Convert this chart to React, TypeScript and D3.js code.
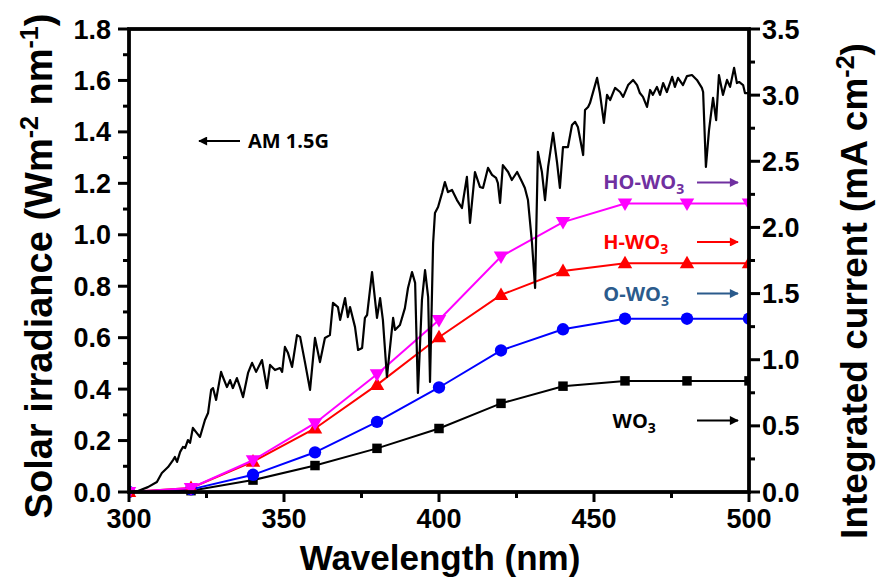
import React from 'react';
import * as d3 from 'd3';

const wavelengths = [300, 320, 340, 360, 380, 400, 420, 440, 460, 480, 500];
const currentWO3 = [0, 0.01, 0.09, 0.2, 0.33, 0.48, 0.67, 0.8, 0.84, 0.84, 0.84];
const currentOWO3 = [0, 0.02, 0.13, 0.3, 0.53, 0.79, 1.07, 1.23, 1.31, 1.31, 1.31];
const currentHWO3 = [0, 0.03, 0.23, 0.48, 0.81, 1.17, 1.49, 1.67, 1.73, 1.73, 1.73];
const currentHOWO3 = [0, 0.03, 0.24, 0.52, 0.89, 1.3, 1.78, 2.04, 2.18, 2.18, 2.18];

const amWavelength = [300.0,302.9,306.1,309.0,310.6,312.6,314.2,314.8,315.5,316.5,317.4,318.1,319.0,319.7,320.6,321.9,322.9,324.5,325.5,326.5,327.1,328.1,329.7,330.3,331.6,332.6,333.5,334.8,335.8,336.8,338.4,339.7,341.0,342.9,344.5,345.5,347.1,348.7,349.4,350.3,351.3,352.6,354.2,355.2,356.8,358.4,360.0,361.6,363.2,364.8,365.8,367.4,368.1,369.7,370.6,371.3,372.9,373.9,375.2,376.1,376.8,378.4,380.0,381.0,381.9,383.2,385.2,385.8,387.4,389.0,390.0,391.3,392.3,393.2,394.5,395.5,396.5,397.1,398.1,398.7,399.7,401.0,401.9,402.9,404.2,405.8,407.4,409.0,410.0,411.6,413.2,414.2,415.8,417.1,418.4,419.0,419.7,420.6,422.3,423.5,425.2,426.8,427.7,428.7,430.0,431.0,431.9,433.2,434.2,435.2,436.8,438.1,439.0,440.0,441.6,442.9,443.9,444.8,446.5,447.1,448.1,448.7,451.0,451.9,453.2,454.2,455.2,456.8,458.4,459.4,461.0,462.6,463.9,464.8,465.8,467.1,468.1,469.0,470.3,471.3,472.3,473.5,475.2,476.1,477.1,478.7,480.0,481.6,483.2,484.8,485.2,486.1,487.1,488.4,489.4,490.3,491.6,492.9,493.9,495.2,496.1,496.8,498.1,498.7,500.0];
const amIrradiance = [0.000,0.004,0.019,0.039,0.074,0.097,0.124,0.136,0.117,0.156,0.175,0.171,0.202,0.191,0.249,0.229,0.214,0.280,0.307,0.397,0.404,0.358,0.467,0.447,0.408,0.435,0.404,0.443,0.408,0.369,0.463,0.502,0.467,0.513,0.404,0.494,0.474,0.482,0.467,0.564,0.540,0.486,0.610,0.603,0.502,0.397,0.599,0.505,0.599,0.610,0.735,0.719,0.669,0.754,0.680,0.719,0.642,0.552,0.560,0.677,0.688,0.855,0.677,0.754,0.669,0.447,0.677,0.630,0.649,0.715,0.793,0.855,0.813,0.385,0.747,0.863,0.758,0.428,0.968,1.085,1.108,1.163,1.205,1.166,1.174,1.135,1.104,1.225,1.046,1.244,1.186,1.182,1.260,1.233,1.221,1.201,1.124,1.271,1.244,1.213,1.244,1.205,1.182,1.135,0.968,0.793,1.322,1.244,1.135,1.264,1.396,1.279,1.182,1.341,1.341,1.427,1.439,1.419,1.310,1.485,1.497,1.512,1.610,1.551,1.435,1.544,1.524,1.571,1.555,1.536,1.582,1.602,1.582,1.551,1.536,1.497,1.563,1.544,1.575,1.544,1.590,1.555,1.614,1.575,1.610,1.582,1.617,1.621,1.602,1.571,1.555,1.264,1.407,1.532,1.446,1.621,1.544,1.602,1.575,1.649,1.590,1.594,1.582,1.551,1.551];

const xMajorTicks = [300, 350, 400, 450, 500];
const xMinorTicks = [325, 375, 425, 475];
const leftMajorTicks = [0, 0.2, 0.4, 0.6, 0.8, 1.0, 1.2, 1.4, 1.6, 1.8];
const leftMinorTicks = [0.1, 0.3, 0.5, 0.7, 0.9, 1.1, 1.3, 1.5, 1.7];
const rightMajorTicks = [0, 0.5, 1.0, 1.5, 2.0, 2.5, 3.0, 3.5];
const rightMinorTicks = [0.25, 0.75, 1.25, 1.75, 2.25, 2.75, 3.25];

const seriesValues = [currentWO3, currentOWO3, currentHWO3, currentHOWO3];
const seriesColors = ['#000000', '#0000ff', '#ff0000', '#ff00ff'];
const seriesSymbols = ['square', 'circle', 'triangleUp', 'triangleDown'];
const labelColors = ['#000000', '#2b5b8c', '#ff0000', '#7030a0'];
const labelPrefixes = ['WO', 'O-WO', 'H-WO', 'HO-WO'];
// label anchor positions (wavelength nm, right-axis value)
const labelWavelength = [456, 453, 453, 453];
const labelCurrent = [0.54, 1.5, 1.89, 2.34];

const W = 878;
const H = 583;
const L = 129, R = 749, T = 29, B = 492;

const AXIS_FONT = '"Liberation Sans", Arial, sans-serif';
const NOTE_FONT = '"Open Sans", sans-serif';

function markerPath(kind: string, size: number): string {
  if (kind === 'square') return d3.symbol(d3.symbolSquare, size)() as string;
  if (kind === 'circle') return d3.symbol(d3.symbolCircle, size)() as string;
  const s = Math.sqrt(size) * 1.15;
  if (kind === 'triangleUp') return `M0,${-s * 0.62}L${s * 0.6},${s * 0.42}L${-s * 0.6},${s * 0.42}Z`;
  return `M0,${s * 0.62}L${s * 0.6},${-s * 0.42}L${-s * 0.6},${-s * 0.42}Z`;
}

export default function App() {
  const x = d3.scaleLinear().domain([300, 500]).range([L, R]);
  const yL = d3.scaleLinear().domain([0, 1.8]).range([B, T]);
  const yR = d3.scaleLinear().domain([0, 3.5]).range([B, T]);

  const spectrum = amWavelength.map((w, i) => [w, amIrradiance[i]] as [number, number]);
  const specLine = d3.line<[number, number]>().x(d => x(d[0])).y(d => yL(d[1]))(spectrum) as string;

  const seriesLine = (vals: number[]) =>
    d3.line<number>().x((_, i) => x(wavelengths[i])).y(d => yR(d))(vals) as string;

  const markerSizes: Record<string, number> = { square: 90, circle: 120, triangleUp: 110, triangleDown: 110 };

  return (
    <svg width={W} height={H} style={{ position: 'absolute', left: 0, top: 0, background: '#fff' }}>
      <defs>
        <clipPath id="plotclip">
          <rect x={L} y={T - 10} width={R - L} height={B - T + 20} />
        </clipPath>
        {labelColors.map((c, i) => (
          <marker key={i} id={`arr${i}`} viewBox="0 0 10 10" refX="9" refY="5" markerWidth="5" markerHeight="4.5" orient="auto">
            <path d="M0,0L10,5L0,10Z" fill={c} />
          </marker>
        ))}
      </defs>

      <g clipPath="url(#plotclip)">
        {seriesValues.map((vals, si) => (
          <g key={si}>
            <path d={seriesLine(vals)} fill="none" stroke={seriesColors[si]} strokeWidth={2} />
            {vals.map((v, i) => (
              <path key={i} d={markerPath(seriesSymbols[si], markerSizes[seriesSymbols[si]])}
                transform={`translate(${x(wavelengths[i])},${yR(v)})`} fill={seriesColors[si]} />
            ))}
          </g>
        ))}
        <path d={specLine} fill="none" stroke="#000" strokeWidth={2.2} strokeLinejoin="round" />
      </g>

      {/* frame */}
      <rect x={L} y={T} width={R - L} height={B - T} fill="none" stroke="#000" strokeWidth={3.8} />

      {/* bottom ticks */}
      {xMajorTicks.map(t => (
        <g key={`xm${t}`}>
          <line x1={x(t)} x2={x(t)} y1={B} y2={B + 10} stroke="#000" strokeWidth={3} />
          <text x={x(t)} y={B + 36} textAnchor="middle" fontFamily={AXIS_FONT} fontWeight="bold" fontSize={27}>{t}</text>
        </g>
      ))}
      {xMinorTicks.map(t => (
        <line key={`xn${t}`} x1={x(t)} x2={x(t)} y1={B} y2={B + 6} stroke="#000" strokeWidth={3} />
      ))}

      {/* left ticks */}
      {leftMajorTicks.map(t => (
        <g key={`lm${t}`}>
          <line x1={L - 11} x2={L} y1={yL(t)} y2={yL(t)} stroke="#000" strokeWidth={3} />
          <text x={L - 18} y={yL(t) + 9.5} textAnchor="end" fontFamily={AXIS_FONT} fontWeight="bold" fontSize={27}>{t.toFixed(1)}</text>
        </g>
      ))}
      {leftMinorTicks.map(t => (
        <line key={`ln${t}`} x1={L - 6} x2={L} y1={yL(t)} y2={yL(t)} stroke="#000" strokeWidth={3} />
      ))}

      {/* right ticks */}
      {rightMajorTicks.map(t => (
        <g key={`rm${t}`}>
          <line x1={R} x2={R + 11} y1={yR(t)} y2={yR(t)} stroke="#000" strokeWidth={3} />
          <text x={R + 13} y={yR(t) + 9.5} textAnchor="start" fontFamily={AXIS_FONT} fontWeight="bold" fontSize={27}>{t.toFixed(1)}</text>
        </g>
      ))}
      {rightMinorTicks.map(t => (
        <line key={`rn${t}`} x1={R} x2={R + 6} y1={yR(t)} y2={yR(t)} stroke="#000" strokeWidth={3} />
      ))}

      {/* axis titles */}
      <text x={440} y={570} textAnchor="middle" fontFamily={AXIS_FONT} fontWeight="bold" fontSize={35}>Wavelength (nm)</text>
      <text transform="translate(52,266) rotate(-90)" textAnchor="middle" fontFamily={AXIS_FONT} fontWeight="bold" fontSize={38}>
        <tspan>Solar irradiance (Wm</tspan>
        <tspan dy={-14} fontSize={25}>-2</tspan>
        <tspan dy={14}> nm</tspan>
        <tspan dy={-14} fontSize={25}>-1</tspan>
        <tspan dy={14}>)</tspan>
      </text>
      <text transform="translate(867,291) rotate(-90)" textAnchor="middle" fontFamily={AXIS_FONT} fontWeight="bold" fontSize={37}>
        <tspan>Integrated current (mA cm</tspan>
        <tspan dy={-13} fontSize={25}>-2</tspan>
        <tspan dy={13}>)</tspan>
      </text>

      {/* AM 1.5G annotation */}
      <line x1={240} x2={199} y1={141} y2={141} stroke="#000" strokeWidth={2} markerEnd="url(#arr0)" />
      <text x={248} y={148} fontFamily={NOTE_FONT} fontWeight="bold" fontSize={20}>AM 1.5G</text>

      {/* series labels */}
      {labelPrefixes.map((p, i) => (
        <g key={`lab${i}`}>
          <text x={x(labelWavelength[i])} y={yR(labelCurrent[i]) + 7} fontFamily={NOTE_FONT} fontWeight="bold" fontSize={20} fill={labelColors[i]}>
            <tspan>{p}</tspan>
            <tspan dy={5} fontSize={14}>3</tspan>
          </text>
          <line x1={697} x2={738} y1={yR(labelCurrent[i])} y2={yR(labelCurrent[i])} stroke={labelColors[i]} strokeWidth={2} markerEnd={`url(#arr${i})`} />
        </g>
      ))}
    </svg>
  );
}
